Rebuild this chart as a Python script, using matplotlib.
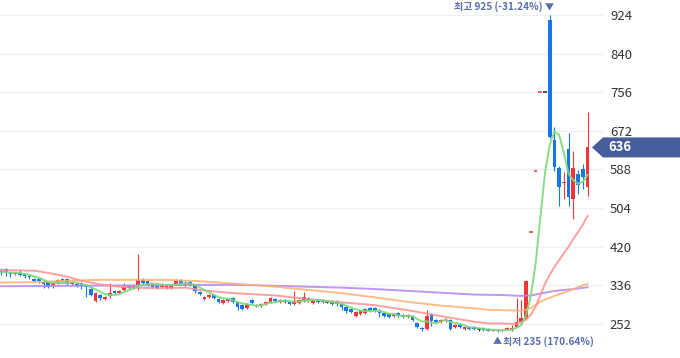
import matplotlib
matplotlib.use("Agg")
import matplotlib.pyplot as plt
import numpy as np
import pandas as pd
from matplotlib.patches import Polygon

plt.rcParams['font.family'] = ['Noto Sans CJK KR', 'DejaVu Sans']

# daily candles (oldest -> newest)
open_p = [369, 372, 363, 361, 363, 361, 356, 350, 350, 343,
          343, 337, 341, 350, 350, 339, 339, 341, 337, 328,
          302, 315, 306, 313, 324, 319, 326, 335, 330, 335,
          348, 346, 332, 335, 332, 330, 330, 339, 348, 337,
          343, 337, 322, 306, 311, 315, 306, 298, 302, 309,
          300, 293, 287, 304, 293, 291, 295, 300, 306, 300,
          304, 300, 295, 298, 302, 308, 298, 304, 304, 300,
          302, 302, 295, 289, 285, 269, 274, 276, 287, 287,
          282, 276, 274, 269, 276, 272, 267, 269, 254, 243,
          241, 274, 261, 256, 259, 261, 245, 250, 241, 245,
          245, 241, 243, 241, 237, 239, 236, 239, 238, 246,
          256, 262, 452, 585, 757, 757, 913, 652, 591, 559,
          633, 524, 578, 589, 550]
high_p = [374, 374, 365, 365, 369, 363, 358, 352, 352, 345,
          345, 343, 350, 352, 352, 343, 341, 343, 339, 330,
          321, 317, 313, 341, 326, 326, 341, 337, 337, 404,
          352, 348, 341, 337, 341, 339, 339, 350, 350, 346,
          346, 339, 324, 313, 317, 317, 309, 306, 309, 311,
          302, 295, 298, 306, 295, 298, 302, 311, 308, 306,
          306, 302, 324, 306, 322, 311, 306, 306, 306, 304,
          304, 304, 298, 291, 287, 280, 282, 287, 289, 289,
          285, 278, 276, 276, 278, 274, 274, 272, 256, 245,
          282, 276, 263, 263, 265, 263, 252, 252, 248, 248,
          248, 243, 245, 243, 241, 241, 241, 245, 250, 309,
          304, 348, 452, 585, 757, 757, 925, 680, 595, 583,
          667, 628, 587, 600, 713]
low_p = [358, 356, 354, 359, 357, 352, 350, 344, 341, 330,
         330, 330, 339, 343, 337, 337, 333, 328, 311, 313,
         300, 304, 304, 309, 317, 317, 324, 328, 328, 326,
         339, 335, 330, 328, 330, 328, 328, 337, 337, 335,
         335, 319, 315, 304, 309, 306, 298, 295, 300, 298,
         282, 282, 284, 295, 289, 289, 293, 298, 300, 298,
         298, 293, 293, 295, 300, 300, 295, 298, 298, 298,
         293, 291, 282, 276, 276, 267, 271, 274, 278, 278,
         267, 267, 265, 267, 267, 265, 265, 258, 243, 236,
         239, 248, 254, 254, 256, 239, 243, 243, 239, 239,
         239, 237, 237, 236, 236, 235, 236, 238, 237, 245,
         254, 260, 452, 585, 757, 757, 657, 585, 509, 524,
         509, 480, 535, 546, 530]
close_p = [365, 365, 361, 363, 359, 356, 354, 346, 346, 339,
           332, 341, 348, 346, 339, 341, 335, 335, 332, 315,
           319, 309, 311, 319, 319, 324, 335, 330, 335, 348,
           341, 337, 339, 330, 339, 337, 337, 346, 339, 341,
           337, 324, 317, 311, 315, 309, 300, 304, 306, 300,
           289, 285, 295, 298, 291, 295, 300, 308, 302, 304,
           300, 295, 302, 304, 311, 302, 304, 300, 300, 300,
           295, 295, 289, 280, 278, 278, 280, 285, 280, 280,
           276, 269, 267, 274, 269, 267, 272, 261, 245, 241,
           269, 259, 256, 261, 263, 241, 250, 245, 245, 241,
           241, 241, 239, 237, 239, 236, 239, 243, 243, 257,
           266, 346, 452, 585, 757, 757, 659, 593, 550, 561,
           528, 591, 554, 572, 636]

# longer moving averages at sample days
ma20_day = [0, 7, 10, 14, 17, 21, 25, 28, 32, 35, 39, 42, 46, 49, 53, 58, 65, 72, 79, 86,
            93, 100, 103, 106, 109, 110, 111, 112, 113, 114, 115, 116, 117, 118, 119, 120,
            121, 122, 123, 124]
ma20 = [369, 368, 363, 355, 346, 338, 333, 331, 330, 330, 331, 326, 322, 319, 317, 314, 306, 299, 293, 282,
        269, 257, 253, 253, 252, 256, 262, 272, 289, 314, 339, 359, 376, 391, 406, 420,
        437, 452, 468, 487]
ma60_day = [0, 7, 14, 21, 28, 35, 42, 49, 58, 65, 72, 79, 86, 93, 100, 103, 106, 110,
            111, 112, 113, 114, 115, 116, 117, 118, 119, 120, 121, 122, 123, 124]
ma60 = [342, 343, 346, 348, 348, 348, 345, 340, 333, 326, 319, 310, 300, 292, 286, 283, 282, 281,
        283, 287, 293, 300, 305, 309, 313, 317, 320, 324, 328, 332, 336, 339]
ma120_day = [0, 14, 28, 42, 51, 58, 65, 72, 79, 86, 93, 100, 106, 110, 112, 114, 116, 118, 120, 122, 124]
ma120 = [334, 335, 336, 337, 337, 335, 333, 331, 328, 324, 320, 316, 315, 313, 314, 318, 322, 325, 327, 329, 332]

y_ticks = [252, 336, 420, 504, 588, 672, 756, 840, 924]
hi_day, hi_val, hi_text = 116, 925, '최고 925 (-31.24%)'
lo_day, lo_val, lo_text = 105, 235, '최저 235 (170.64%)'
last_price = 636

UP = '#f0353b'
DOWN = '#1477e6'
FLAT = '#222222'
NOTE = '#5a6eae'

o = np.array(open_p, dtype=float)
h = np.array(high_p, dtype=float)
l = np.array(low_p, dtype=float)
c = np.array(close_p, dtype=float)
x = np.arange(len(c))
prev = np.r_[c[0], c[:-1]]

cols = []
for i in range(len(c)):
    if c[i] > o[i]:
        cols.append(UP)
    elif c[i] < o[i]:
        cols.append(DOWN)
    elif c[i] > prev[i]:
        cols.append(UP)
    elif c[i] < prev[i]:
        cols.append(DOWN)
    else:
        cols.append(FLAT)

fig = plt.figure(figsize=(6.8, 3.58), dpi=100)
ax = fig.add_axes([0, 0, 603 / 680, 1])
ax.set_xlim(-0.21, 127.27)
ax.set_ylim(178, 956.6)

ax.set_yticks(y_ticks)
ax.yaxis.tick_right()
ax.tick_params(axis='y', length=0, pad=5, labelsize=9.5, labelcolor='#333333')
ax.set_xticks([])
for s in ax.spines.values():
    s.set_visible(False)
ax.grid(axis='y', color='#eef0f3', linewidth=1)
ax.set_axisbelow(True)

# candles
bw = 0.78
ax.vlines(x, l, h, colors=cols, linewidth=0.8, zorder=3)
body = np.abs(c - o)
flat = body == 0
ax.bar(x[~flat], body[~flat], bottom=np.minimum(o, c)[~flat], width=bw,
       color=np.array(cols)[~flat], linewidth=0, zorder=3)
ax.hlines(c[flat], x[flat] - 0.4, x[flat] + 0.4, colors=np.array(cols)[flat],
          linewidth=1.1, zorder=3)

# moving averages
ma5 = pd.Series(c).rolling(5, min_periods=1).mean()
ax.plot(ma120_day, ma120, color='#b584f5', lw=1.4, alpha=0.85, zorder=4)
ax.plot(ma60_day, ma60, color='#ffb070', lw=1.4, alpha=0.85, zorder=4)
ax.plot(ma20_day, ma20, color='#ff8f8f', lw=1.4, alpha=0.85, zorder=4)
ax.plot(x, ma5, color='#7bd97b', lw=1.4, alpha=0.9, zorder=4)

# high / low notes
ax.annotate('▼', xy=(hi_day, hi_val), xytext=(0, 1.5), textcoords='offset points',
            ha='center', va='bottom', fontsize=6.5, color=NOTE)
ax.annotate(hi_text, xy=(hi_day, hi_val), xytext=(-5, 1.5), textcoords='offset points',
            ha='right', va='bottom', fontsize=7.2, fontweight='bold', color=NOTE)
ax.annotate('▲', xy=(lo_day, lo_val), xytext=(0, -4), textcoords='offset points',
            ha='center', va='top', fontsize=6.5, color=NOTE)
ax.annotate(lo_text, xy=(lo_day, lo_val), xytext=(4, -3), textcoords='offset points',
            ha='left', va='top', fontsize=7.2, fontweight='bold', color=NOTE)

# current price tag on the axis
half = 10 * (956.6 - 178) / 358
tr = ax.get_yaxis_transform()
tag = Polygon([(592 / 603, last_price), (1.0, last_price + half), (1.13, last_price + half),
               (1.13, last_price - half), (1.0, last_price - half)],
              closed=True, transform=tr, facecolor='#465e9b', edgecolor='none',
              clip_on=False, zorder=5)
ax.add_patch(tag)
ax.text(608 / 603, last_price, str(last_price), transform=tr, ha='left', va='center',
        fontsize=9.5, color='white', fontweight='bold', zorder=6, clip_on=False)

fig.savefig('out.png', dpi=100)
